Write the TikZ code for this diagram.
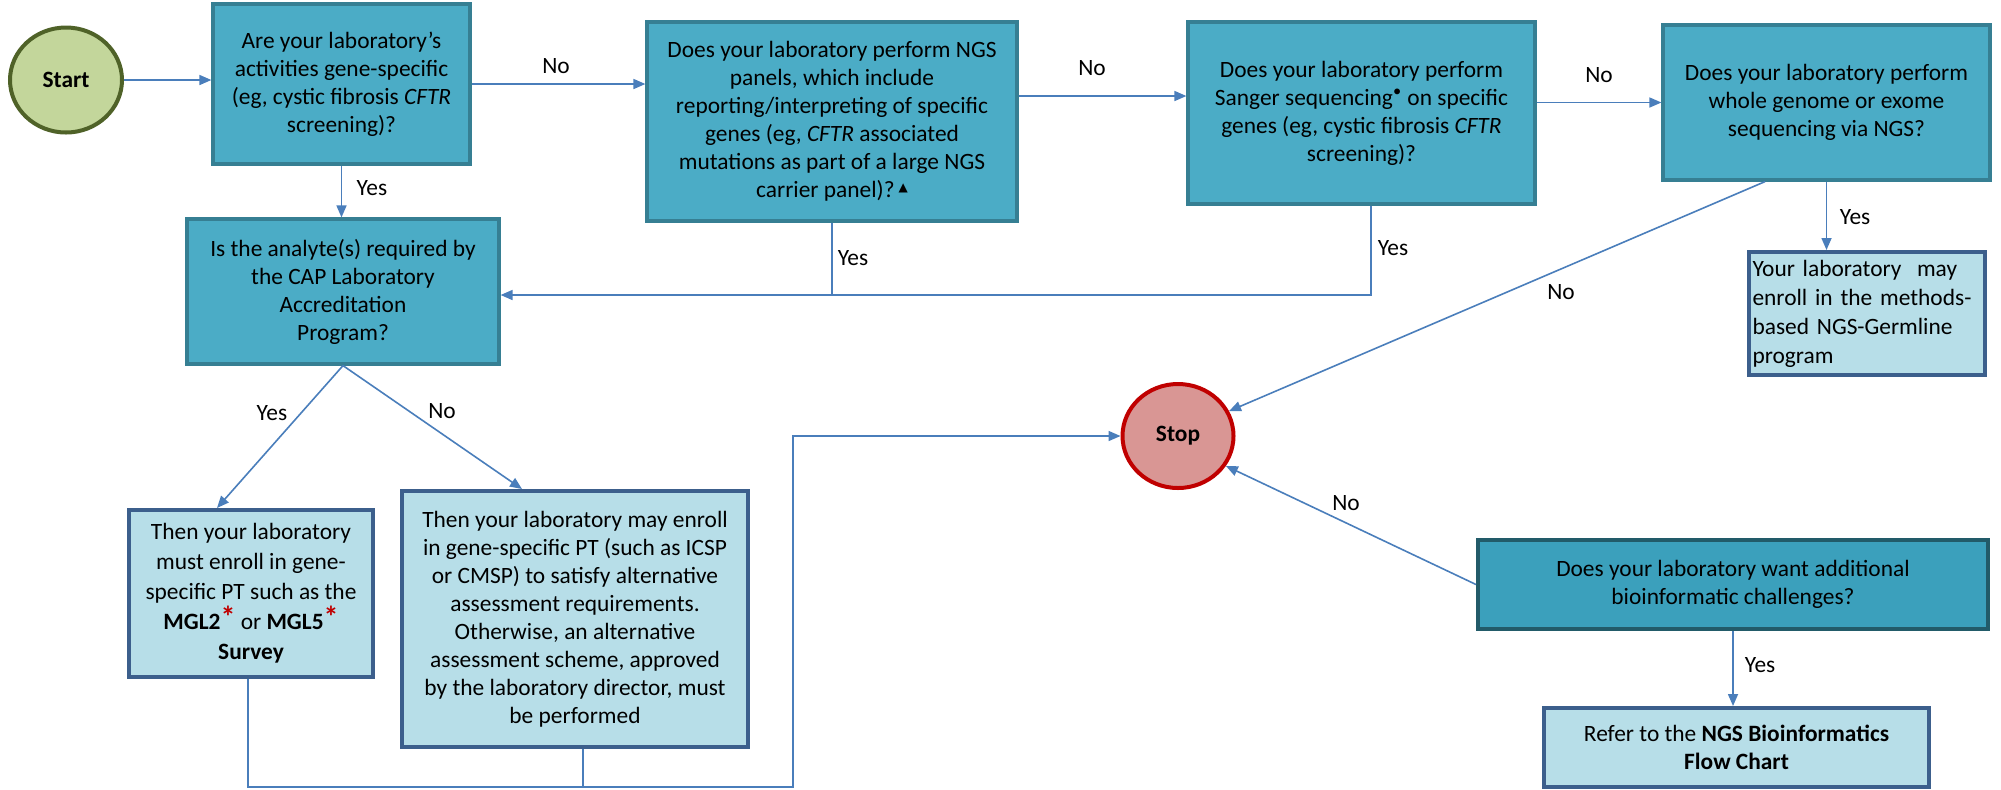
\documentclass[tikz,border=0pt]{standalone}
\usepackage{fontspec}
\setmainfont{Carlito}
\newfontfamily\symb{DejaVu Sans}
\usetikzlibrary{shapes.geometric,arrows.meta}

\definecolor{qfill}{HTML}{4BACC6}
\definecolor{qline}{HTML}{367F93}
\definecolor{qdfill}{HTML}{3BA0BC}
\definecolor{qdline}{HTML}{225B69}
\definecolor{rfill}{HTML}{B7DEE8}
\definecolor{rline}{HTML}{3C5F8C}
\definecolor{gofill}{HTML}{C3D69B}
\definecolor{goline}{HTML}{4F6228}
\definecolor{endfill}{HTML}{D99694}
\definecolor{endline}{HTML}{C00000}
\definecolor{conn}{HTML}{4A7EBB}

\newcommand{\redstar}{\raisebox{0.25ex}{\textcolor{endline}{\fontsize{15}{15}\selectfont\bfseries *}}}

\begin{document}
\begin{tikzpicture}[x=0.5pt,y=-0.5pt,
  every node/.style={font=\fontsize{11.7}{14}\selectfont},
  qbox/.style={draw=qline,fill=qfill,line width=1.6pt,align=center,inner sep=2pt},
  qdbox/.style={draw=qdline,fill=qdfill,line width=2pt,align=center,inner sep=2pt},
  rbox/.style={draw=rline,fill=rfill,line width=2pt,align=center,inner sep=2pt},
  term/.style={ellipse,line width=2pt,inner sep=0pt,font=\fontsize{11.7}{14}\selectfont\bfseries},
  conline/.style={draw=conn,line width=0.8pt},
  arr/.style={conline,-{Triangle[length=6pt,width=5pt]}},
  lbl/.style={inner sep=0pt}]
\useasboundingbox (0,0) rectangle (2001,789);

% terminals
\node[term,draw=goline,fill=gofill,minimum width=56pt,minimum height=52.5pt] (start) at (66,80) {Start};
\node[term,draw=endline,fill=endfill,minimum width=55.5pt,minimum height=52pt] (stop) at (1178,436) {Stop};

% questions
\node[qbox,minimum width=128.5pt,minimum height=80pt] (q1) at (341.5,84)
  {Are your laboratory’s\\activities gene-specific\\(eg, cystic fibrosis \textit{CFTR}\\screening)?};
\node[qbox,minimum width=185pt,minimum height=99.5pt] (q2) at (832,121.5)
  {Does your laboratory perform NGS\\panels, which include\\reporting/interpreting of specific\\genes (eg, \textit{CFTR} associated\\mutations as part of a large NGS\\carrier panel)?\,\raisebox{0.6ex}{\symb\fontsize{6}{6}\selectfont ▲}};
\node[qbox,minimum width=173.5pt,minimum height=91pt] (q3) at (1361.5,113)
  {Does your laboratory perform\\Sanger sequencing\textsuperscript{\textbullet} on specific\\genes (eg, cystic fibrosis \textit{CFTR}\\screening)?};
\node[qbox,minimum width=163.5pt,minimum height=77.5pt] (q4) at (1826.5,102.5)
  {Does your laboratory perform\\whole genome or exome\\sequencing via NGS?};
\node[qbox,minimum width=156pt,minimum height=72.5pt] (q5) at (343,291.5)
  {Is the analyte(s) required by\\the CAP Laboratory\\Accreditation\\Program?};
\node[qdbox,minimum width=255pt,minimum height=44.5pt] (q6) at (1733,584.5)
  {Does your laboratory want additional\\bioinformatic challenges?};

% outcomes
\node[rbox,align=left,text width=114pt,minimum height=61.5pt,font=\fontsize{11.7}{14.5}\selectfont] (germ) at (1866.5,313.5)
  {Your laboratory\ \ may\\enroll in the methods-\\based NGS-Germline\\program};
\node[rbox,minimum width=122pt,minimum height=83.5pt,font=\fontsize{11.7}{15}\selectfont] (mgl) at (251,593.5)
  {Then your laboratory\\must enroll in gene-\\specific PT such as the\\\textbf{MGL2}\redstar{} or \textbf{MGL5}\redstar\\\textbf{Survey}};
\node[rbox,minimum width=173pt,minimum height=128pt] (alt) at (575,619)
  {Then your laboratory may enroll\\in gene-specific PT (such as ICSP\\or CMSP) to satisfy alternative\\assessment requirements.\\Otherwise, an alternative\\assessment scheme, approved\\by the laboratory director, must\\be performed};
\node[rbox,minimum width=192.5pt,minimum height=39.5pt] (ngs) at (1736.5,747.5)
  {Refer to the \textbf{NGS Bioinformatics}\\\textbf{Flow Chart}};

\coordinate (j3) at (1371,295);
\coordinate (bl) at (248,787);
\coordinate (br) at (793,787);

% connectors
\draw[arr] (start.east) -- (start.east -| q1.west);
\draw[arr] (q1.east) -- (q1.east -| q2.west);
\draw[arr] (q2.east |- 0,96) -- (q3.west |- 0,96);
\draw[arr] (q3.east |- q4.west) -- (q4.west);
\draw[arr] (q1.south) -- (q1.south |- q5.north);
\draw[conline] (q2.south) -- (q2.south |- j3);
\draw[arr] (q3.south -| j3) -- (j3) -- (q5.east |- j3);
\draw[arr] (q4.south) -- (q4.south |- germ.north);
\draw[arr] (q4.south -| 1765,0) -- (stop.26);
\draw[arr] (q5.south) -- (mgl.north -| 217,0);
\draw[arr] (q5.south) -- (alt.north -| 522,0);
\draw[arr] (mgl.south -| bl) -- (bl) -- (br) -- (br |- stop.west) -- (stop.west);
\draw[conline] (alt.south -| 583,0) -- (bl -| 583,0);
\draw[arr] (q6.west) -- (stop.-32);
\draw[arr] (q6.south) -- (q6.south |- ngs.north);

% labels
\node[lbl] at (556,66) {No};
\node[lbl] at (1092,68) {No};
\node[lbl] at (1599,75) {No};
\node[lbl] at (372,188) {Yes};
\node[lbl] at (853,258) {Yes};
\node[lbl] at (1393,248) {Yes};
\node[lbl] at (1855,217) {Yes};
\node[lbl] at (1561,292) {No};
\node[lbl] at (272,413) {Yes};
\node[lbl] at (442,411) {No};
\node[lbl] at (1346,503) {No};
\node[lbl] at (1760,665) {Yes};
\end{tikzpicture}
\end{document}
